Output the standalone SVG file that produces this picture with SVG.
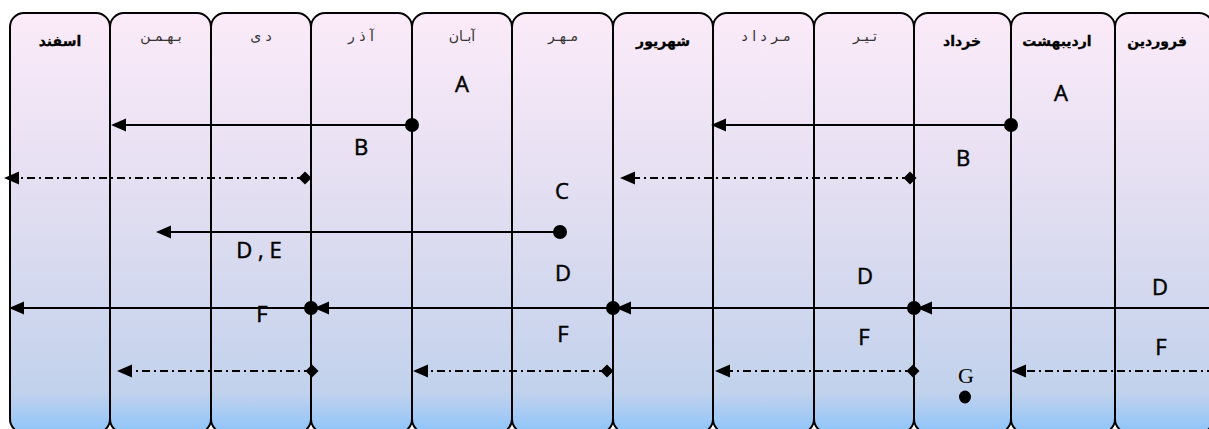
<svg xmlns="http://www.w3.org/2000/svg" width="1209" height="429" viewBox="0 0 1209 429">
  <defs>
    <linearGradient id="bg" gradientUnits="userSpaceOnUse" x1="0" y1="13" x2="0" y2="433">
      <stop offset="0" stop-color="#fcebf9"/>
      <stop offset="0.45" stop-color="#e2def1"/>
      <stop offset="0.9" stop-color="#c2d2ec"/>
      <stop offset="0.95" stop-color="#a9cbf3"/>
      <stop offset="1" stop-color="#8cc4fa"/>
    </linearGradient>
    <marker id="arr" markerUnits="userSpaceOnUse" markerWidth="15" markerHeight="14" viewBox="0 0 15 14" refX="13" refY="7" orient="auto">
      <path d="M0,0.5 L15,7 L0,13.5 Z" fill="#000"/>
    </marker>
    <marker id="dot" markerUnits="userSpaceOnUse" markerWidth="16" markerHeight="16" viewBox="-8 -8 16 16" refX="0" refY="0" orient="auto">
      <circle r="7" fill="#000"/>
    </marker>
    <marker id="dia" markerUnits="userSpaceOnUse" markerWidth="14" markerHeight="14" viewBox="-7 -7 14 14" refX="0" refY="0" orient="auto">
      <path d="M0,-6.5 L6.5,0 L0,6.5 L-6.5,0 Z" fill="#000"/>
    </marker>
  </defs>
  <style>
    .col { fill: url(#bg); stroke: #000; stroke-width: 2; }
    .hb { font-family: "DejaVu Sans", sans-serif; font-size: 14px; font-weight: bold; fill: #000; stroke: #000; stroke-width: 0.3; text-anchor: middle; }
    .hn { font-family: "DejaVu Sans", sans-serif; font-size: 14px; fill: #333; text-anchor: middle; }
    .lbl { font-family: "Open Sans", "Noto Sans", sans-serif; font-size: 22px; fill: #000; stroke: #000; stroke-width: 0.5; text-anchor: middle; }
    .ser { font-family: "Liberation Serif", serif; font-size: 22px; fill: #000; text-anchor: middle; }
    .s { stroke: #000; stroke-width: 2; fill: none; }
    .d { stroke: #000; stroke-width: 2; fill: none; stroke-dasharray: 8 4 2 4; }
  </style>

  <g id="col-esfand"><rect class="col" x="10" y="13" width="100" height="420" rx="14"/><text class="hb" x="60" y="46">اسفند</text></g>
  <g id="col-bahman"><rect class="col" x="110" y="13" width="101" height="420" rx="14"/><text class="hn" x="161" y="41">بـهـمـن</text></g>
  <g id="col-dey"><rect class="col" x="211" y="13" width="100" height="420" rx="14"/><text class="hn" x="261" y="41">د ی</text></g>
  <g id="col-azar"><rect class="col" x="311" y="13" width="101" height="420" rx="14"/><text class="hn" x="361" y="41">آ ذ ر</text></g>
  <g id="col-aban"><rect class="col" x="412" y="13" width="100" height="420" rx="14"/><text class="hn" x="462" y="41">آبـان</text></g>
  <g id="col-mehr"><rect class="col" x="512" y="13" width="101" height="420" rx="14"/><text class="hn" x="563" y="41">مـهـر</text></g>
  <g id="col-shahrivar"><rect class="col" x="613" y="13" width="100" height="420" rx="14"/><text class="hb" x="663" y="46">شهریور</text></g>
  <g id="col-mordad"><rect class="col" x="713" y="13" width="101" height="420" rx="14"/><text class="hn" x="766" y="41">مـر د ا د</text></g>
  <g id="col-tir"><rect class="col" x="814" y="13" width="100" height="420" rx="14"/><text class="hn" x="865" y="41">تـیـر</text></g>
  <g id="col-khordad"><rect class="col" x="914" y="13" width="97" height="420" rx="14"/><text class="hb" x="962" y="46">خرداد</text></g>
  <g id="col-ordibehesht"><rect class="col" x="1011" y="13" width="104" height="420" rx="14"/><text class="hb" x="1057" y="46">اردیبهشت</text></g>
  <g id="col-farvardin"><rect class="col" x="1115" y="13" width="98" height="420" rx="14"/><text class="hb" x="1157" y="46">فروردین</text></g>

  <g id="connectors">
    <line class="s" x1="412" y1="125" x2="113" y2="125" marker-start="url(#dot)" marker-end="url(#arr)"/>
    <line class="s" x1="1011" y1="125" x2="713" y2="125" marker-start="url(#dot)" marker-end="url(#arr)"/>
    <line class="d" x1="305" y1="178" x2="6" y2="178" marker-start="url(#dia)" marker-end="url(#arr)"/>
    <line class="d" x1="910" y1="178" x2="622" y2="178" marker-start="url(#dia)" marker-end="url(#arr)"/>
    <line class="s" x1="560" y1="232" x2="158" y2="232" marker-start="url(#dot)" marker-end="url(#arr)"/>
    <line class="s" x1="1215" y1="308" x2="919" y2="308" marker-end="url(#arr)"/>
    <line class="s" x1="914" y1="308" x2="618" y2="308" marker-start="url(#dot)" marker-end="url(#arr)"/>
    <line class="s" x1="613" y1="308" x2="316" y2="308" marker-start="url(#dot)" marker-end="url(#arr)"/>
    <line class="s" x1="311" y1="308" x2="11" y2="308" marker-start="url(#dot)" marker-end="url(#arr)"/>
    <line class="d" x1="1215" y1="371" x2="1013" y2="371" marker-end="url(#arr)"/>
    <line class="d" x1="913" y1="371" x2="717" y2="371" marker-start="url(#dia)" marker-end="url(#arr)"/>
    <line class="d" x1="607" y1="371" x2="415" y2="371" marker-start="url(#dia)" marker-end="url(#arr)"/>
    <line class="d" x1="312" y1="371" x2="119" y2="371" marker-start="url(#dia)" marker-end="url(#arr)"/>
  </g>

  <g id="labels">
    <text class="lbl" x="462" y="92">A</text>
    <text class="lbl" x="1061" y="101">A</text>
    <text class="lbl" x="361" y="155">B</text>
    <text class="lbl" x="963" y="166">B</text>
    <text class="lbl" x="562" y="199">C</text>
    <text class="lbl" x="259" y="258">D , E</text>
    <text class="lbl" x="563" y="281">D</text>
    <text class="lbl" x="865" y="284">D</text>
    <text class="lbl" x="1160" y="295">D</text>
    <text class="lbl" x="262" y="322">F</text>
    <text class="lbl" x="563" y="342">F</text>
    <text class="lbl" x="864" y="345">F</text>
    <text class="lbl" x="1161" y="355">F</text>
    <text class="ser" x="966" y="383">G</text>
  </g>
  <g id="node-g-dot"><ellipse cx="965" cy="397" rx="6" ry="6.5" fill="#000"/></g>
</svg>
